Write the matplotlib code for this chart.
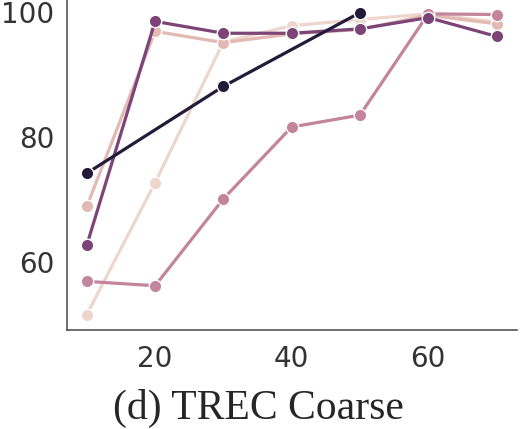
import numpy as np
import pandas as pd
import seaborn as sns
import matplotlib.pyplot as plt

# x значения
x_vals = [10, 20, 30, 40, 50, 60, 70]

# серии от самой светлой к самой тёмной
s1 = [51.6, 72.7, 95.2, 97.8, 98.8, 99.7, 98.4]
s2 = [68.9, 96.9, 95.1, 96.5, 97.2, 99.5, 98.1]
s3 = [56.9, 56.2, 70.1, 81.6, 83.5, 99.7, 99.6]
s4 = [62.7, 98.5, 96.6, 96.6, 97.3, 99.1, 96.1]
navy_x = [10, 30, 50]
s5 = [74.2, 88.1, 99.9]

series = [(x_vals, s1), (x_vals, s2), (x_vals, s3), (x_vals, s4), (navy_x, s5)]
colors = ['#eed6cd', '#e2b9b3', '#c3859b', '#7d4577', '#231b3a']

sns.set_style("white")

fig = plt.figure(figsize=(5.26, 4.29), dpi=100)
ax = fig.add_axes([67 / 526, 99 / 429, 450 / 526, 330 / 429])

for (xs, ys), c in zip(series, colors):
    ax.plot(xs, ys, color=c, lw=2.3, marker='o', markersize=9,
            markeredgecolor='white', markeredgewidth=1)

ax.set_xlim(7.1, 73)
ax.set_ylim(49.12, 101.92)
ax.set_xticks([20, 40, 60])
ax.set_yticks([60, 80, 100])
ax.tick_params(axis='both', labelsize=20, colors='#333333', length=0)
ax.tick_params(axis='x', pad=11)
ax.tick_params(axis='y', pad=9)
for side in ['top', 'right']:
    ax.spines[side].set_visible(False)
for side in ['left', 'bottom']:
    ax.spines[side].set_color('#555555')
    ax.spines[side].set_linewidth(1.2)

fig.text(0.491, 1 - 419 / 429, '(d) TREC Coarse', ha='center', va='baseline',
         fontsize=30, family='Liberation Serif')

fig.savefig('out.png', dpi=100)
